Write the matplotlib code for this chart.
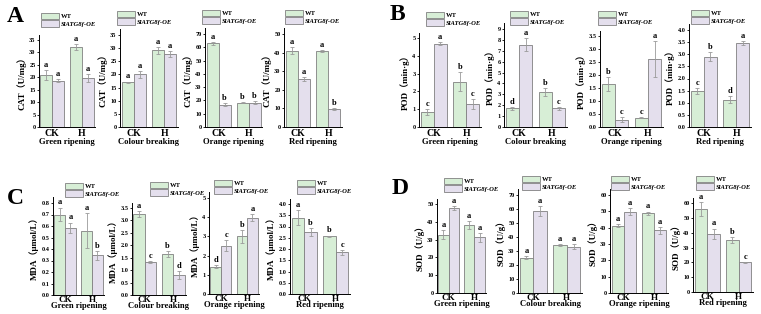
import matplotlib.pyplot as plt
import numpy as np

plt.rcParams['font.family'] = ['Liberation Serif', 'Noto Sans CJK SC']
plt.rcParams['font.weight'] = 'bold'

W, H = 761, 314

groups = ["CK", "H"]
stages = ["Green ripening", "Colour breaking", "Orange ripening", "Red ripening"]

# CAT (U/mg)
cat_wt = [[20.8, 32.2], [17.0, 29.2], [63.0, 18.3], [41.0, 40.7]]
cat_wt_err = [[2.0, 1.2], [0.3, 1.3], [1.0, 0.3], [2.0, 0.6]]
cat_oe = [[18.7, 19.8], [20.0, 27.8], [16.8, 18.2], [25.7, 9.6]]
cat_oe_err = [[0.5, 1.5], [1.2, 1.0], [1.0, 1.0], [1.0, 0.6]]
cat_letters = [["a", "a", "a", "a"], ["a", "a", "a", "a"], ["a", "b", "b", "b"], ["a", "a", "a", "b"]]
cat_ticks = [(35, 5), (35, 5), (70, 10), (50, 10)]

# POD (min·g)
pod_wt = [[0.85, 2.55], [1.7, 3.2], [1.65, 0.36], [1.5, 1.13]]
pod_wt_err = [[0.15, 0.55], [0.1, 0.35], [0.28, 0.02], [0.12, 0.15]]
pod_oe = [[4.68, 1.28], [7.55, 1.7], [0.28, 2.62], [2.9, 3.45]]
pod_oe_err = [[0.1, 0.28], [0.6, 0.1], [0.1, 0.7], [0.18, 0.08]]
pod_letters = [["c", "a", "b", "c"], ["d", "a", "b", "c"], ["b", "c", "c", "a"], ["c", "b", "d", "a"]]
pod_ticks = [(5, 1), (9, 1), (3.5, 0.5), (4.0, 0.5)]

# MDA (umol/L)
mda_wt = [[0.70, 0.56], [3.27, 1.65], [1.42, 3.0], [3.4, 2.57]]
mda_wt_err = [[0.06, 0.15], [0.12, 0.12], [0.08, 0.35], [0.35, 0.03]]
mda_oe = [[0.585, 0.345], [1.33, 0.8], [2.52, 3.98], [2.75, 1.85]]
mda_oe_err = [[0.045, 0.04], [0.03, 0.15], [0.3, 0.2], [0.18, 0.12]]
mda_letters = [["a", "a", "a", "b"], ["a", "c", "b", "d"], ["d", "c", "b", "a"], ["a", "b", "b", "c"]]
mda_ticks = [(0.8, 0.1), (3.5, 0.5), (5, 1), (4.0, 0.5)]

# SOD (U/g)
sod_wt = [[32.8, 38.3], [25.3, 34.2], [41.2, 48.8], [56.0, 35.3]]
sod_wt_err = [[2.5, 2.2], [1.2, 0.8], [1.0, 1.0], [4.5, 2.0]]
sod_oe = [[47.7, 31.2], [58.3, 33.2], [49.8, 38.3], [39.3, 20.0]]
sod_oe_err = [[1.0, 2.3], [3.5, 2.0], [2.2, 2.3], [3.5, 0.5]]
sod_letters = [["a", "a", "a", "a"], ["a", "a", "a", "a"], ["a", "a", "a", "a"], ["a", "a", "b", "c"]]
sod_ticks = [(50, 10), (70, 10), (60, 10), (60, 10)]

wt_color = "#d7eed6"
oe_color = "#e4dfed"
edge = "#808080"

# panel boxes in pixels: left, right, zero line y, top tick y, legend x, legend first row y
boxes_cat = [(39, 95, 127, 40, 38, 17), (120, 178, 127, 35, 114, 15),
             (205, 262, 127, 34, 199, 14), (284, 342, 127, 34, 282, 14)]
boxes_pod = [(419, 481, 127, 38, 423, 16), (504, 567, 127, 29, 507, 15),
             (600, 663, 127, 36, 595, 15), (689, 751, 127, 30, 688, 14)]
boxes_mda = [(53, 104, 295, 203, 62, 187), (132, 186, 295, 208, 147, 186),
             (209, 259, 294, 198, 211, 184), (290, 350, 294, 204, 294, 184)]
boxes_sod = [(437, 486, 293, 204, 441, 182), (518, 582, 293, 195, 519, 180),
             (610, 668, 293, 195, 608, 180), (693, 753, 292, 203, 693, 180)]

fig = plt.figure(figsize=(W / 100, H / 100), dpi=100)


def panel(box, wt, wt_err, oe, oe_err, letters, ticks, ylabel, stage, row):
    left, right, zero, toptick, lx, ly = box
    top, step = ticks
    ext = 1.06
    hpx = (zero - toptick) * ext
    ax = fig.add_axes([left / W, 1 - zero / H, (right - left) / W, hpx / H])
    x = np.arange(len(groups))
    w = 0.4
    ekw = dict(ecolor="#9a9a9a", elinewidth=0.6, capsize=1.2, capthick=0.6)
    ax.bar(x - w / 2, wt, w, yerr=wt_err, color=wt_color, edgecolor=edge, linewidth=0.6, error_kw=ekw, label="WT")
    ax.bar(x + w / 2, oe, w, yerr=oe_err, color=oe_color, edgecolor=edge, linewidth=0.6, error_kw=ekw, label="SlATG8f-OE")
    vals = [wt[0], oe[0], wt[1], oe[1]]
    errs = [wt_err[0], oe_err[0], wt_err[1], oe_err[1]]
    xs = [x[0] - w / 2, x[0] + w / 2, x[1] - w / 2, x[1] + w / 2]
    for xi, v, e, t in zip(xs, vals, errs, letters):
        ax.text(xi, v + e + top * 0.012, t, ha="center", va="bottom", fontsize=6, fontweight="bold")
    ax.set_xlim(-0.45, 1.45)
    ax.set_ylim(0, top * ext)
    yt = np.arange(0, top + step / 2, step)
    ax.set_yticks(yt)
    if step < 1:
        ax.set_yticklabels(["%.1f" % v for v in yt])
    else:
        ax.set_yticklabels(["%d" % v for v in yt])
    ax.set_xticks(x)
    ax.set_xticklabels(groups, fontsize=7 if row == 0 else 6.6, fontweight="bold")
    ax.tick_params(axis="y", labelsize=4.5, length=1.5, width=0.6, pad=1)
    ax.tick_params(axis="x", length=0, pad=1.5 if row == 0 else 0.5)
    ax.spines["top"].set_visible(False)
    ax.spines["right"].set_visible(False)
    for s in ["left", "bottom"]:
        ax.spines[s].set_linewidth(0.7)
    ax.set_ylabel(ylabel, fontsize=6.5, fontweight="bold", labelpad=2)
    ax.set_xlabel(stage, fontsize=6.2, fontweight="bold", labelpad=0 if row == 0 else -1.2)
    leg = ax.legend(loc="lower left", bbox_to_anchor=(lx / W, 1 - (ly + 13) / H),
                    bbox_transform=fig.transFigure, frameon=False, fontsize=4.8,
                    handlelength=2.6, handleheight=1.1, borderpad=0, labelspacing=0.15,
                    handletextpad=0.3)
    for p in leg.get_patches():
        p.set_edgecolor(edge)
        p.set_linewidth(0.6)
    leg.get_texts()[1].set_style("italic")
    return ax


measures = [
    (boxes_cat, cat_wt, cat_wt_err, cat_oe, cat_oe_err, cat_letters, cat_ticks, "CAT（U/mg）", 0),
    (boxes_pod, pod_wt, pod_wt_err, pod_oe, pod_oe_err, pod_letters, pod_ticks, "POD（min·g）", 0),
    (boxes_mda, mda_wt, mda_wt_err, mda_oe, mda_oe_err, mda_letters, mda_ticks, "MDA（μmol/L）", 1),
    (boxes_sod, sod_wt, sod_wt_err, sod_oe, sod_oe_err, sod_letters, sod_ticks, "SOD（U/g）", 1),
]
for boxes, wt, wte, oe, oee, lets, tks, yl, row in measures:
    for i in range(4):
        panel(boxes[i], wt[i], wte[i], oe[i], oee[i], lets[i], tks[i], yl, stages[i], row)

for letter, px, py in [("A", 15, 16), ("B", 397, 15), ("C", 15, 198), ("D", 400, 188)]:
    fig.text(px / W, 1 - py / H, letter, fontsize=17, fontweight="bold", ha="center", va="center")

fig.savefig("out.png", dpi=100)
